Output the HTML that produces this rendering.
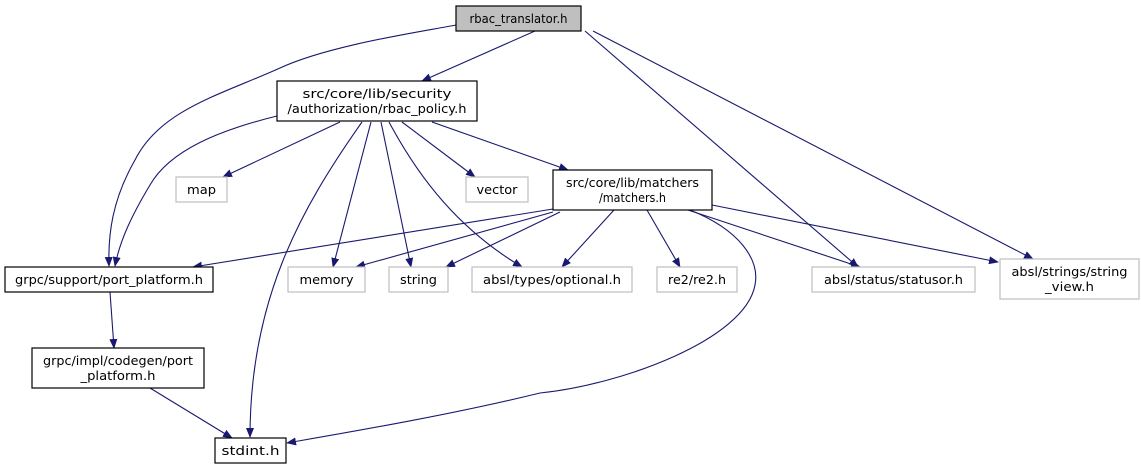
<!DOCTYPE html>
<html><head><meta charset="utf-8"><style>
html,body{margin:0;padding:0;background:#fff;}
svg{display:block;}
text{font-family:"DejaVu Sans","Liberation Sans",sans-serif;font-size:12.5px;fill:#000;}
</style></head><body>
<svg width="1141" height="469" viewBox="0 0 1141 469" xmlns="http://www.w3.org/2000/svg">
<defs>
<marker id="a" markerWidth="10" markerHeight="8" refX="9" refY="4" orient="auto" markerUnits="userSpaceOnUse">
<path d="M0,0 L10,4 L0,8 z" fill="#191970"/>
</marker>
</defs>
<g fill="none" stroke="#191970" stroke-width="1.1" marker-end="url(#a)">
<path d="M456,25 C420,32 330,45 280,68 C220,95 160,110 135,160 C112,200 108,235 109,266"/>
<path d="M535,31 L422,81"/>
<path d="M585,31 L858,267"/>
<path d="M593,31 L1033,259"/>
<path d="M277,116 C220,130 170,150 150,185 C132,215 120,240 115,266"/>
<path d="M340,122 L223,177"/>
<path d="M362,122 C300,210 250,300 250,437"/>
<path d="M371,122 L333,267"/>
<path d="M381,122 L411,267"/>
<path d="M389,122 C420,180 460,230 522,267"/>
<path d="M402,122 L475,177"/>
<path d="M432,122 L568,170"/>
<path d="M553,209 L193,267"/>
<path d="M553,212 L356,267"/>
<path d="M560,212 L446,267"/>
<path d="M614,210 L562,267"/>
<path d="M647,210 L680,267"/>
<path d="M690,210 C740,230 760,260 755,285 C745,340 620,385 540,393 C450,415 350,432 287,443"/>
<path d="M688,210 L860,267"/>
<path d="M712,205 L998,262"/>
<path d="M110,292 L114,348"/>
<path d="M150,388 L232,438"/>
</g>
<g stroke-width="1.2">
<rect x="456" y="6" width="125" height="25" fill="#bfbfbf" stroke="#000"/>
<rect x="277" y="81" width="200" height="40" fill="#fff" stroke="#000"/>
<rect x="553" y="170" width="159" height="40" fill="#fff" stroke="#000"/>
<rect x="5" y="267" width="208" height="25" fill="#fff" stroke="#000"/>
<rect x="32" y="348" width="172" height="40" fill="#fff" stroke="#000"/>
<rect x="215" y="438" width="71" height="25" fill="#fff" stroke="#000"/>
<rect x="176" y="177" width="51" height="25" fill="#fff" stroke="#bfbfbf"/>
<rect x="466" y="177" width="62" height="25" fill="#fff" stroke="#bfbfbf"/>
<rect x="288" y="267" width="77" height="25" fill="#fff" stroke="#bfbfbf"/>
<rect x="389" y="267" width="59" height="25" fill="#fff" stroke="#bfbfbf"/>
<rect x="472" y="267" width="160" height="25" fill="#fff" stroke="#bfbfbf"/>
<rect x="657" y="267" width="80" height="25" fill="#fff" stroke="#bfbfbf"/>
<rect x="812" y="267" width="163" height="25" fill="#fff" stroke="#bfbfbf"/>
<rect x="1000" y="259" width="139" height="40" fill="#fff" stroke="#bfbfbf"/>
</g>
<g text-anchor="middle" lengthAdjust="spacingAndGlyphs">
<text x="518.5" y="23" textLength="98" lengthAdjust="spacingAndGlyphs">rbac_translator.h</text>
<text x="377" y="98" textLength="149" lengthAdjust="spacingAndGlyphs">src/core/lib/security</text>
<text x="377" y="113" textLength="179" lengthAdjust="spacingAndGlyphs">/authorization/rbac_policy.h</text>
<text x="632.5" y="187" textLength="133" lengthAdjust="spacingAndGlyphs">src/core/lib/matchers</text>
<text x="632.5" y="202" textLength="67" lengthAdjust="spacingAndGlyphs">/matchers.h</text>
<text x="109" y="284" textLength="188" lengthAdjust="spacingAndGlyphs">grpc/support/port_platform.h</text>
<text x="118" y="365" textLength="150" lengthAdjust="spacingAndGlyphs">grpc/impl/codegen/port</text>
<text x="118" y="380" textLength="75" lengthAdjust="spacingAndGlyphs">_platform.h</text>
<text x="250.5" y="455" textLength="58" lengthAdjust="spacingAndGlyphs">stdint.h</text>
<text x="201.5" y="194" textLength="29" lengthAdjust="spacingAndGlyphs">map</text>
<text x="497" y="194" textLength="41" lengthAdjust="spacingAndGlyphs">vector</text>
<text x="326.5" y="284" textLength="54" lengthAdjust="spacingAndGlyphs">memory</text>
<text x="418.5" y="284" textLength="37" lengthAdjust="spacingAndGlyphs">string</text>
<text x="552" y="284" textLength="138" lengthAdjust="spacingAndGlyphs">absl/types/optional.h</text>
<text x="697" y="284" textLength="58" lengthAdjust="spacingAndGlyphs">re2/re2.h</text>
<text x="893.5" y="284" textLength="139" lengthAdjust="spacingAndGlyphs">absl/status/statusor.h</text>
<text x="1069.5" y="276" textLength="116" lengthAdjust="spacingAndGlyphs">absl/strings/string</text>
<text x="1069.5" y="291" textLength="49" lengthAdjust="spacingAndGlyphs">_view.h</text>
</g>
</svg>
</body></html>
